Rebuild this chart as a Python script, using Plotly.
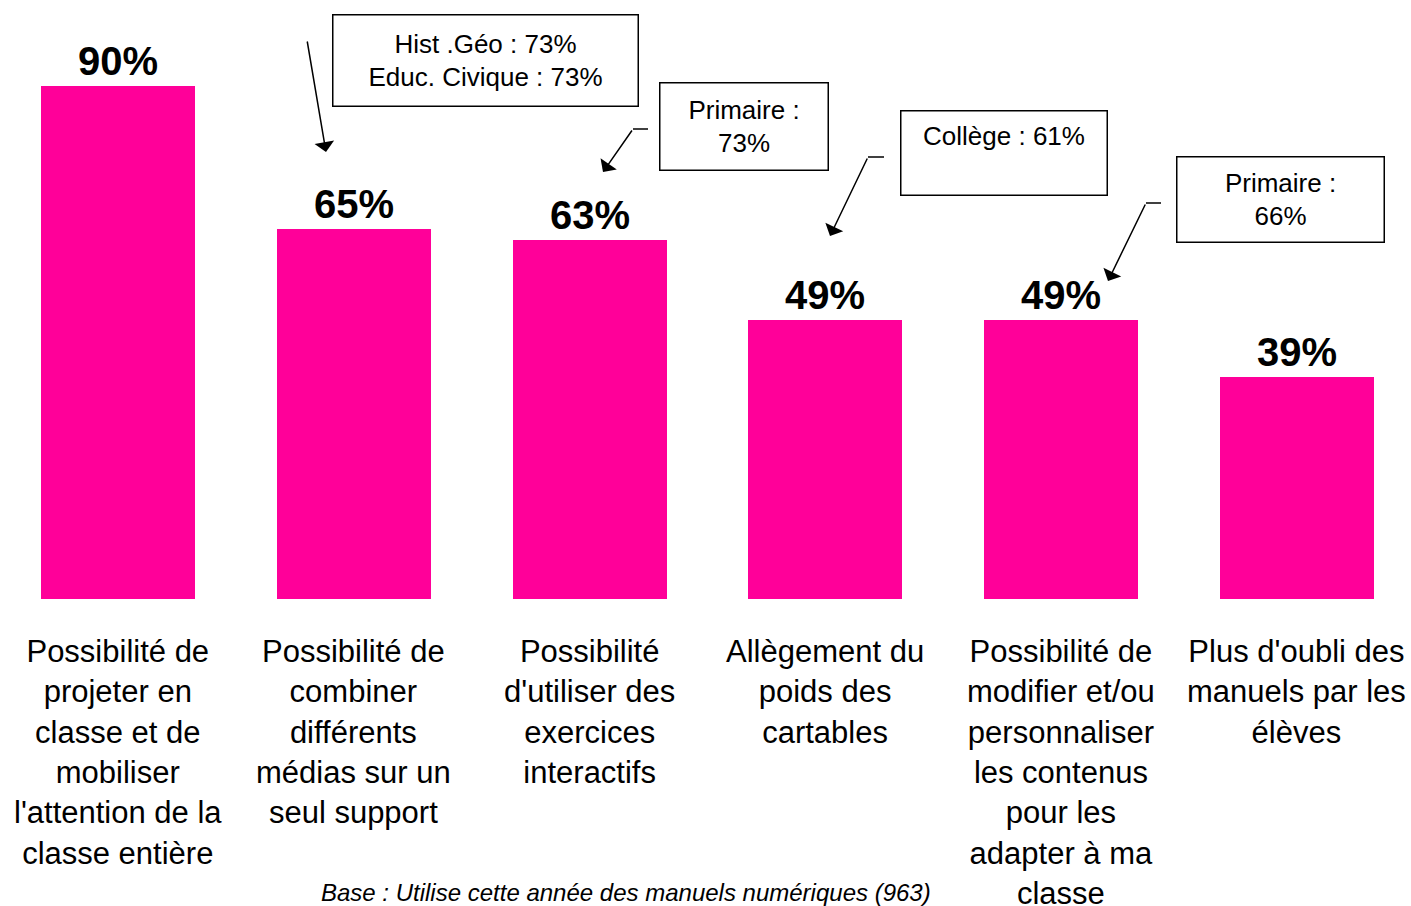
import plotly.graph_objects as go

# ---- data ----
categories = [
    "Possibilité de<br>projeter en<br>classe et de<br>mobiliser<br>l'attention de la<br>classe entière",
    "Possibilité de<br>combiner<br>différents<br>médias sur un<br>seul support",
    "Possibilité<br>d'utiliser des<br>exercices<br>interactifs",
    "Allègement du<br>poids des<br>cartables",
    "Possibilité de<br>modifier et/ou<br>personnaliser<br>les contenus<br>pour les<br>adapter à ma<br>classe",
    "Plus d'oubli des<br>manuels par les<br>élèves",
]
values = [90, 65, 63, 49, 49, 39]
callout_texts = [
    "Hist .Géo : 73%<br>Educ. Civique : 73%",
    "Primaire :<br>73%",
    "Collège : 61%<br> ",
    "Primaire :<br>66%",
]
footnote = "Base : Utilise cette année des manuels numériques (963)"

W, H = 1411, 906
BOTTOM = 599  # pixel row of the bar baseline
YMAX = 105.1
FONT = "Arial, Liberation Sans, sans-serif"
PINK = "#FF0099"


def px_x(p):
    return p / W


def px_y(p):
    return (BOTTOM - p) / BOTTOM


x_idx = list(range(len(values)))

fig = go.Figure()
fig.add_trace(go.Bar(
    x=x_idx, y=values, width=0.653,
    marker=dict(color=PINK, line=dict(width=0)),
    text=[f"<b>{v}%</b>" for v in values],
    textposition="outside",
    textfont=dict(family=FONT, size=40, color="black"),
    cliponaxis=False,
    hoverinfo="skip",
))

annotations = []
# category labels
for i, c in enumerate(categories):
    annotations.append(dict(
        x=i, xref="x", y=px_y(631.5), yref="paper",
        text=c, showarrow=False, xanchor="center", yanchor="top",
        align="center", font=dict(family=FONT, size=31, color="black"),
    ))

# callout boxes: (left, top, right, bottom) in pixels
boxes = [(332, 15, 638, 107), (659, 83, 828, 171), (900, 112, 1107, 197), (1176, 157, 1384, 243)]
for (l, t, r, b), txt in zip(boxes, callout_texts):
    annotations.append(dict(
        x=px_x((l + r) / 2), y=px_y((t + b) / 2 - 1), xref="paper", yref="paper",
        xanchor="center", yanchor="middle",
        text=txt, showarrow=False, align="center", valign="middle",
        width=r - l - 2, height=b - t - 2, borderpad=0,
        bordercolor="black", borderwidth=1.5, bgcolor="white",
        font=dict(family=FONT, size=26, color="black"),
    ))

# arrows: (tail x, tail y, head x, head y, horizontal stub start x or None)
arrows = [(307, 40, 326, 152, None), (633, 129, 603, 172, 648),
          (868, 157, 830, 236, 884), (1146, 203, 1108, 281, 1161)]
shapes = []
for tx, ty, hx, hy, sx in arrows:
    annotations.append(dict(
        x=px_x(hx), y=px_y(hy), xref="paper", yref="paper",
        ax=tx - hx, ay=ty - hy, text="", showarrow=True,
        arrowhead=1, arrowsize=2.2, arrowwidth=1.5, arrowcolor="black",
    ))
    if sx is not None:
        shapes.append(dict(type="line", xref="paper", yref="paper",
                           x0=px_x(sx), y0=px_y(ty), x1=px_x(tx), y1=px_y(ty),
                           line=dict(color="black", width=1.5)))

annotations.append(dict(
    x=px_x(626), y=px_y(892), xref="paper", yref="paper",
    text=f"<i>{footnote}</i>", showarrow=False, xanchor="center", yanchor="middle",
    font=dict(family=FONT, size=24, color="black"),
))

fig.update_layout(
    width=W, height=H,
    margin=dict(l=0, r=0, t=0, b=H - BOTTOM, pad=0),
    paper_bgcolor="white", plot_bgcolor="white",
    showlegend=False,
    xaxis=dict(range=[-0.5004, 5.4835], visible=False, fixedrange=True),
    yaxis=dict(range=[0, YMAX], visible=False, fixedrange=True),
    annotations=annotations, shapes=shapes,
    bargap=0,
)

fig.write_html("out.html", config={"displayModeBar": False},
               post_script="document.body.style.margin='0px';document.body.style.overflow='hidden';")
